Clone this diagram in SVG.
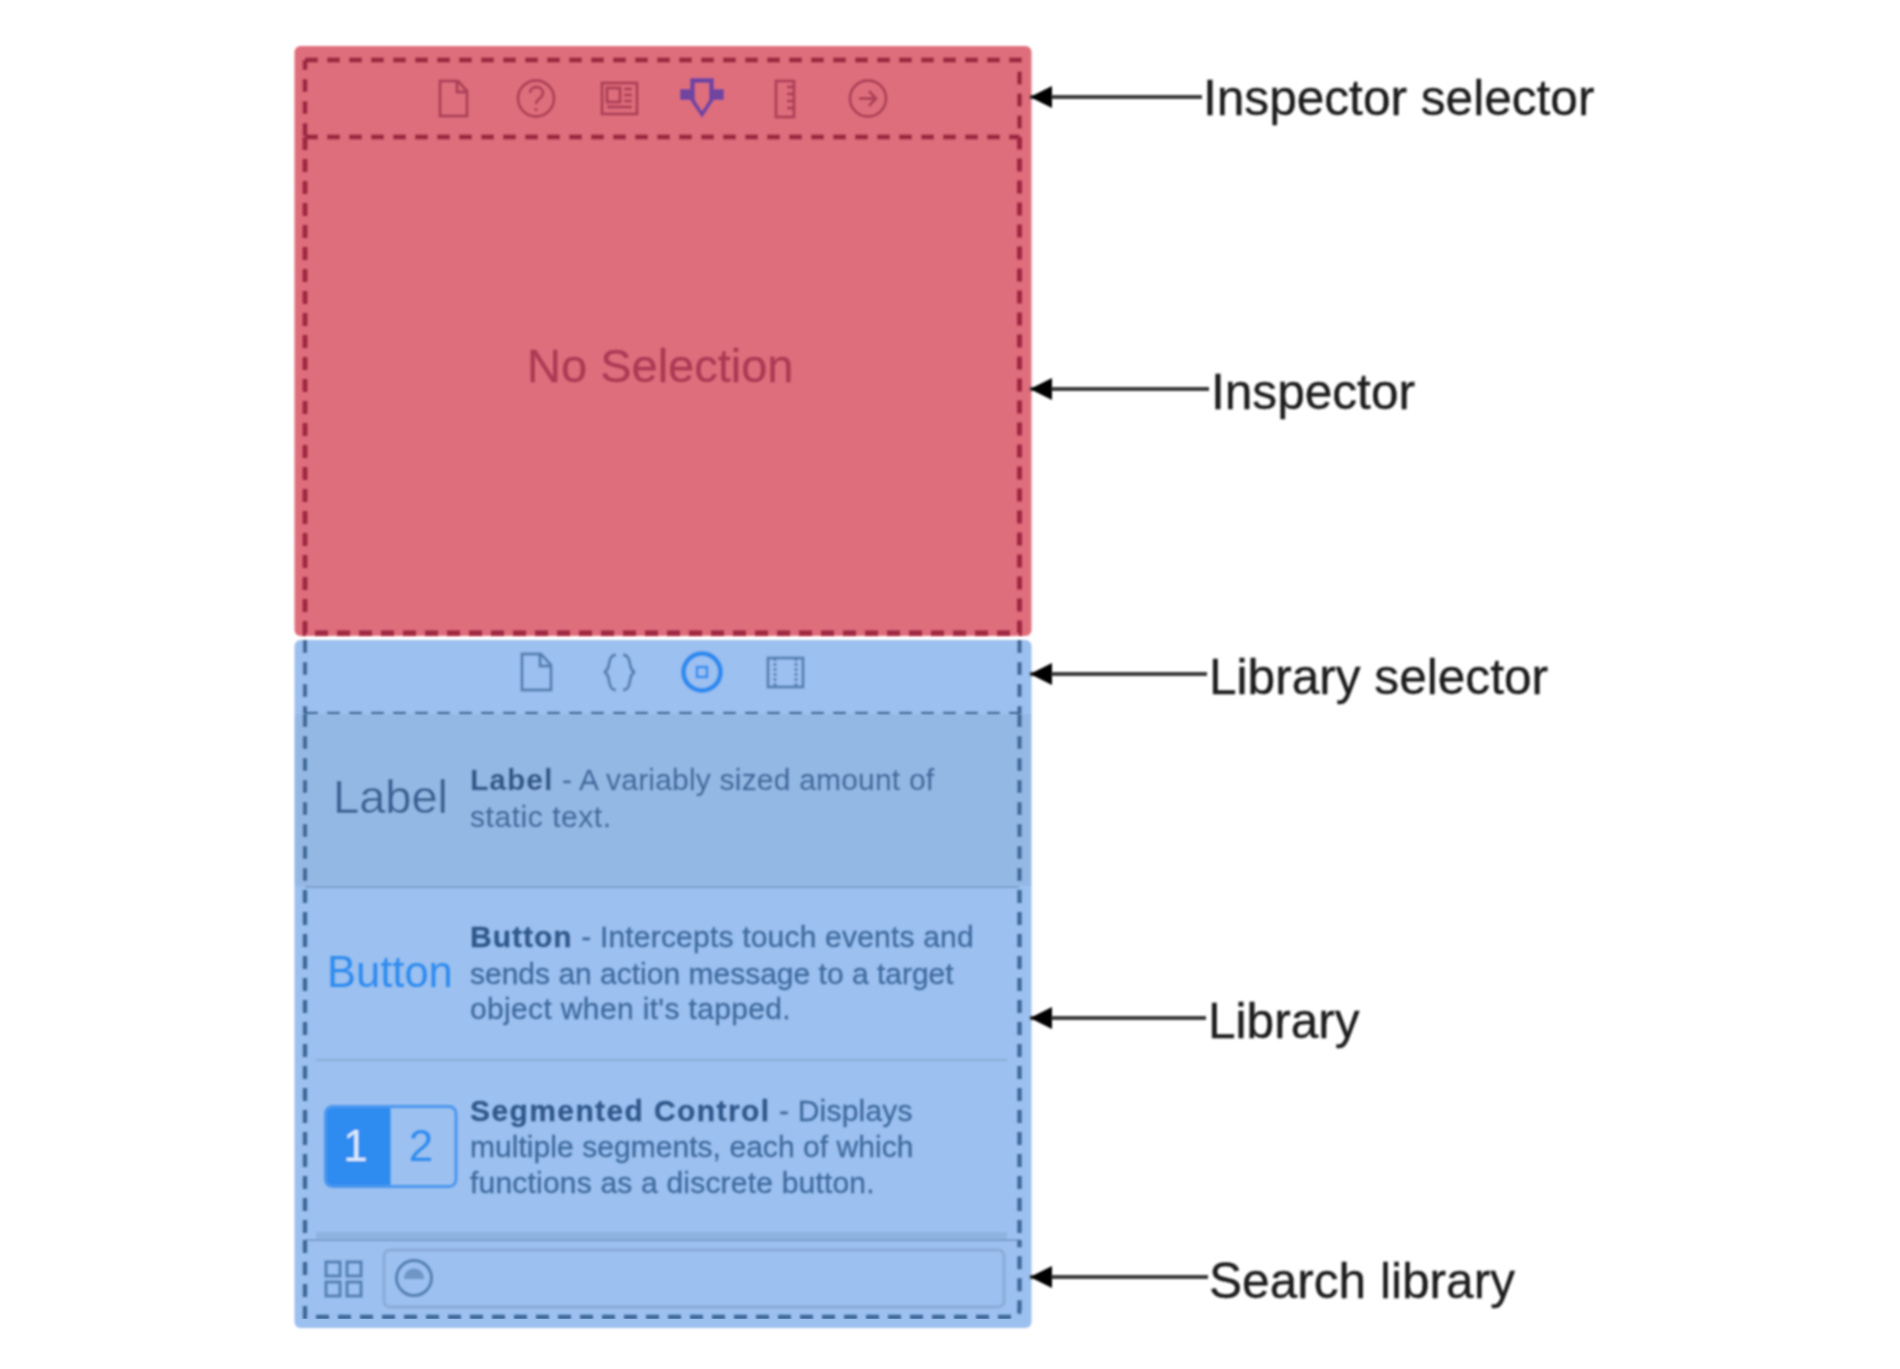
<svg xmlns="http://www.w3.org/2000/svg" width="1900" height="1369" viewBox="0 0 1900 1369">
<style>
text{font-family:"Liberation Sans",Arial,sans-serif}
.lab{font-size:49.600px;fill:#1c1c1c;stroke:#1c1c1c;stroke-width:.35px}
.desc{font-size:30px;fill:#3f6a9d;stroke:#3f6a9d;stroke-width:.3px;letter-spacing:.2px}
.desc tspan.b{font-weight:700;fill:#30598b;stroke:#30598b;letter-spacing:1px}
.rd{fill:none;stroke:#9c2640;stroke-width:4.800;stroke-dasharray:13 9}
.bd{fill:none;stroke:#3d6797;stroke-width:4.300;stroke-dasharray:13 9}
.ri{fill:none;stroke:#ad4058;stroke-width:2.900}
.bi{fill:none;stroke:#5580b2;stroke-width:2.900}
.conn{stroke:#3a3a3a;stroke-width:4;fill:none;marker-end:url(#ah)}
</style>
<defs>
<filter id="soft" x="-2%" y="-2%" width="104%" height="104%"><feGaussianBlur stdDeviation="0.9"/></filter>
<marker id="ah" markerUnits="userSpaceOnUse" markerWidth="24" markerHeight="26" refX="22" refY="13" orient="auto"><path d="M0 2L22 13L0 24Z" fill="#000"/></marker>
</defs>
<rect width="1900" height="1369" fill="#fff"/>
<g id="inspector-selector" filter="url(#soft)">
<rect x="294.500" y="46" width="737" height="590" rx="6" fill="#df6e7c"/>
<path class="ri" d="M440 81H458L467 91V116H440Z M457 81V92H467"/>
<circle class="ri" cx="536" cy="98.500" r="18"/>
<path class="ri" d="M530 93C530 85 543 85 543 93C543 98 536 99 536 104M536 108V111"/>
<rect class="ri" x="602" y="83" width="35" height="31"/>
<path class="ri" d="M607 88H620V102H607Z M624 89H632M624 95H632M624 101H632M607 107H632"/>
<path d="M690 78H714V89H724V100H714L702 118L690 100H680V89H690Z M695 83V100L702 111L709 100V83Z" fill="#7045a0" fill-rule="evenodd"/>
<rect class="ri" x="776" y="81" width="18" height="36"/>
<path class="ri" d="M787 87H793M787 94H793M787 101H793M787 108H793"/>
<circle class="ri" cx="868" cy="98.500" r="18"/>
<path class="ri" d="M859 98.500H876M869 91L876 98.500L869 106"/>
<path class="rd" d="M305 60H1019.500V136M305 136V60"/>
<path class="rd" d="M305 137H1019.500"/>
</g>
<g id="inspector" filter="url(#soft)">
<text x="527" y="382" font-size="47" fill="#ab3a54" stroke="#ab3a54" stroke-width=".3">No Selection</text>
<path class="rd" d="M305 137V633H1019.500V137"/>
</g>
<g id="library-selector" filter="url(#soft)">
<rect x="294.500" y="640" width="737" height="688" rx="6" fill="#9cc0ef"/>
<path class="bi" d="M522 654H541L551 665V690H522Z M540 654V666H551"/>
<path class="bi" d="M616 655C606 655 612 670 604 672C612 674 606 690 616 690M623 655C633 655 627 670 635 672C627 674 633 690 623 690"/>
<circle cx="702" cy="672" r="18.500" fill="none" stroke="#2f8bef" stroke-width="5"/>
<rect x="697" y="667" width="10" height="10" fill="none" stroke="#2f8bef" stroke-width="2.500"/>
<rect class="bi" x="768" y="658" width="35" height="29"/>
<path class="bi" d="M775 658V687M796 658V687" stroke-dasharray="3 2"/>
<path class="bd" d="M305 640V714M1019.500 640V714M305 714H1019.500"/>
</g>
<g id="library" filter="url(#soft)">
<rect x="296" y="714" width="734" height="172" fill="#94b8e4"/>
<path d="M305 887H1019" stroke="#7e9fcb" stroke-width="2"/>
<path d="M316 1060H1007" stroke="#8aabd8" stroke-width="2"/>
<rect x="316" y="1232" width="691" height="8" fill="#8fb3e0"/>
<text x="333" y="813" font-size="47" fill="#3a6294">Label</text>
<text class="desc" x="470" y="790"><tspan class="b">Label</tspan> - A variably sized amount of</text>
<text class="desc" x="470" y="827" style="letter-spacing:.55px">static text.</text>
<text x="327" y="987" font-size="43.500" fill="#2f8bef">Button</text>
<text class="desc" x="470" y="947"><tspan class="b">Button</tspan> - Intercepts touch events and</text>
<text class="desc" x="470" y="984" style="letter-spacing:0">sends an action message to a target</text>
<text class="desc" x="470" y="1019" style="letter-spacing:.35px">object when it's tapped.</text>
<path d="M390.500 1106.500H332Q325.500 1106.500 325.500 1113V1180Q325.500 1186.500 332 1186.500H390.500Z" fill="#2f8bef"/>
<rect x="325.500" y="1106.500" width="130.500" height="80" rx="7" fill="none" stroke="#4b97ef" stroke-width="3"/>
<text x="355.500" y="1161" font-size="44" fill="#dbe9fb" text-anchor="middle">1</text>
<text x="421" y="1161" font-size="44" fill="#2f8bef" text-anchor="middle">2</text>
<text class="desc" x="470" y="1121"><tspan class="b" style="letter-spacing:1.4px">Segmented Control</tspan> - Displays</text>
<text class="desc" x="470" y="1157" style="letter-spacing:.05px">multiple segments, each of which</text>
<text class="desc" x="470" y="1193">functions as a discrete button.</text>
<path class="bd" d="M305 714V1240M1019.500 714V1240"/>
</g>
<g id="search-library" filter="url(#soft)">
<path d="M305 1240H1019" stroke="#7e9fcb" stroke-width="2"/>
<rect x="384" y="1250" width="620" height="57" rx="6" fill="none" stroke="#8aabd8" stroke-width="3"/>
<rect class="bi" x="326" y="1262" width="14" height="14"/>
<rect class="bi" x="347" y="1262" width="14" height="14"/>
<rect class="bi" x="326" y="1282" width="14" height="14"/>
<rect class="bi" x="347" y="1282" width="14" height="14"/>
<circle class="bi" cx="414" cy="1278" r="17.500"/>
<path d="M404 1279C404 1265 424 1265 424 1279Z" fill="#6f96c5"/>
<path class="bd" d="M305 1240V1317H1012Q1019.500 1317 1019.500 1309V1240"/>
</g>
<g id="connectors" filter="url(#soft)">
<path class="conn" d="M1202 97H1030"/>
<path class="conn" d="M1209 389H1030"/>
<path class="conn" d="M1207 674H1030"/>
<path class="conn" d="M1206 1018H1030"/>
<path class="conn" d="M1208 1277H1030"/>
</g>
<g id="labels" filter="url(#soft)">
<text class="lab" x="1203" y="115">Inspector selector</text>
<text class="lab" x="1211" y="409">Inspector</text>
<text class="lab" x="1209" y="694">Library selector</text>
<text class="lab" x="1208" y="1038">Library</text>
<text class="lab" x="1209" y="1298">Search library</text>
</g>
</svg>
